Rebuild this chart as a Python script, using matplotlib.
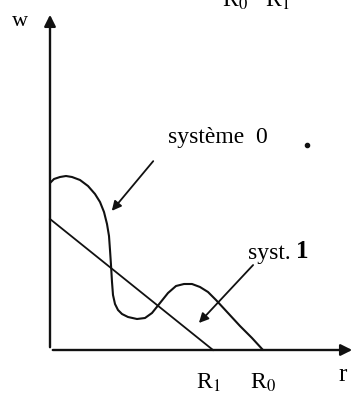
import matplotlib
matplotlib.use("Agg")
import matplotlib.pyplot as plt

# curve "systeme 0" (r, w)
r_sys0 = [0, 4, 10, 16, 22, 30, 38, 45, 50, 54, 57, 59, 60, 61, 62, 63, 65, 68, 72, 78,
          87, 95, 102, 110, 118, 126, 134, 142, 150, 158, 166, 178, 190, 202, 213]
w_sys0 = [167, 171, 173, 174, 173, 170, 164, 156, 148, 138, 126, 114, 100, 85, 68, 55,
          46, 40, 36, 33, 31, 32, 37, 47, 57, 64, 66, 66, 63, 58, 50, 37, 24, 12, 0]

# straight line "syst. 1"
r_sys1 = [0, 163]
w_sys1 = [131, 0]

R1 = 163
R0 = 213

plt.rcParams["mathtext.fontset"] = "stix"

fig = plt.figure(figsize=(3.55, 3.94), dpi=100)
ax = fig.add_axes([0, 0, 1, 1])
ax.set_xlim(-50, 305)
ax.set_ylim(-44, 350)
ax.axis("off")

serif = "Liberation Serif"
black = "#111111"

# axes with arrows
ax.annotate("", xy=(0, 338), xytext=(0, 0),
            arrowprops=dict(arrowstyle="-|>", lw=1.7, color=black, mutation_scale=17))
ax.annotate("", xy=(305, 0), xytext=(0, 0),
            arrowprops=dict(arrowstyle="-|>", lw=1.7, color=black, mutation_scale=17))

ax.plot(r_sys0, w_sys0, color=black, lw=1.5, solid_capstyle="round")
ax.plot(r_sys1, w_sys1, color=black, lw=1.3)

# labels
ax.text(-30, 329, "w", fontsize=16, family=serif, ha="center", va="center")
ax.text(293, -25, "r", fontsize=18, family=serif, ha="center", va="center")
ax.text(R1 - 5, -33, "R$_1$", fontsize=17, family=serif, ha="center", va="center")
ax.text(R0, -33, "R$_0$", fontsize=17, family=serif, ha="center", va="center")
ax.text(206, 343, "R$_0$   R$_1$", fontsize=17, family=serif, ha="center", va="baseline")

ax.text(168, 213, "système  0", fontsize=17, family=serif, ha="center", va="center")
ax.plot([257], [205], marker="o", ms=3, color=black)
ax.text(246, 97, "syst. ", fontsize=17, family=serif, ha="right", va="center")
ax.text(246, 98, "1", fontsize=18, family=serif, weight="bold", ha="left", va="center")

ax.annotate("", xy=(60, 137), xytext=(105, 191),
            arrowprops=dict(arrowstyle="-|>", lw=1.3, color=black, mutation_scale=14))
ax.annotate("", xy=(147, 25), xytext=(205, 87),
            arrowprops=dict(arrowstyle="-|>", lw=1.3, color=black, mutation_scale=14))

fig.savefig("out.png", dpi=100)
